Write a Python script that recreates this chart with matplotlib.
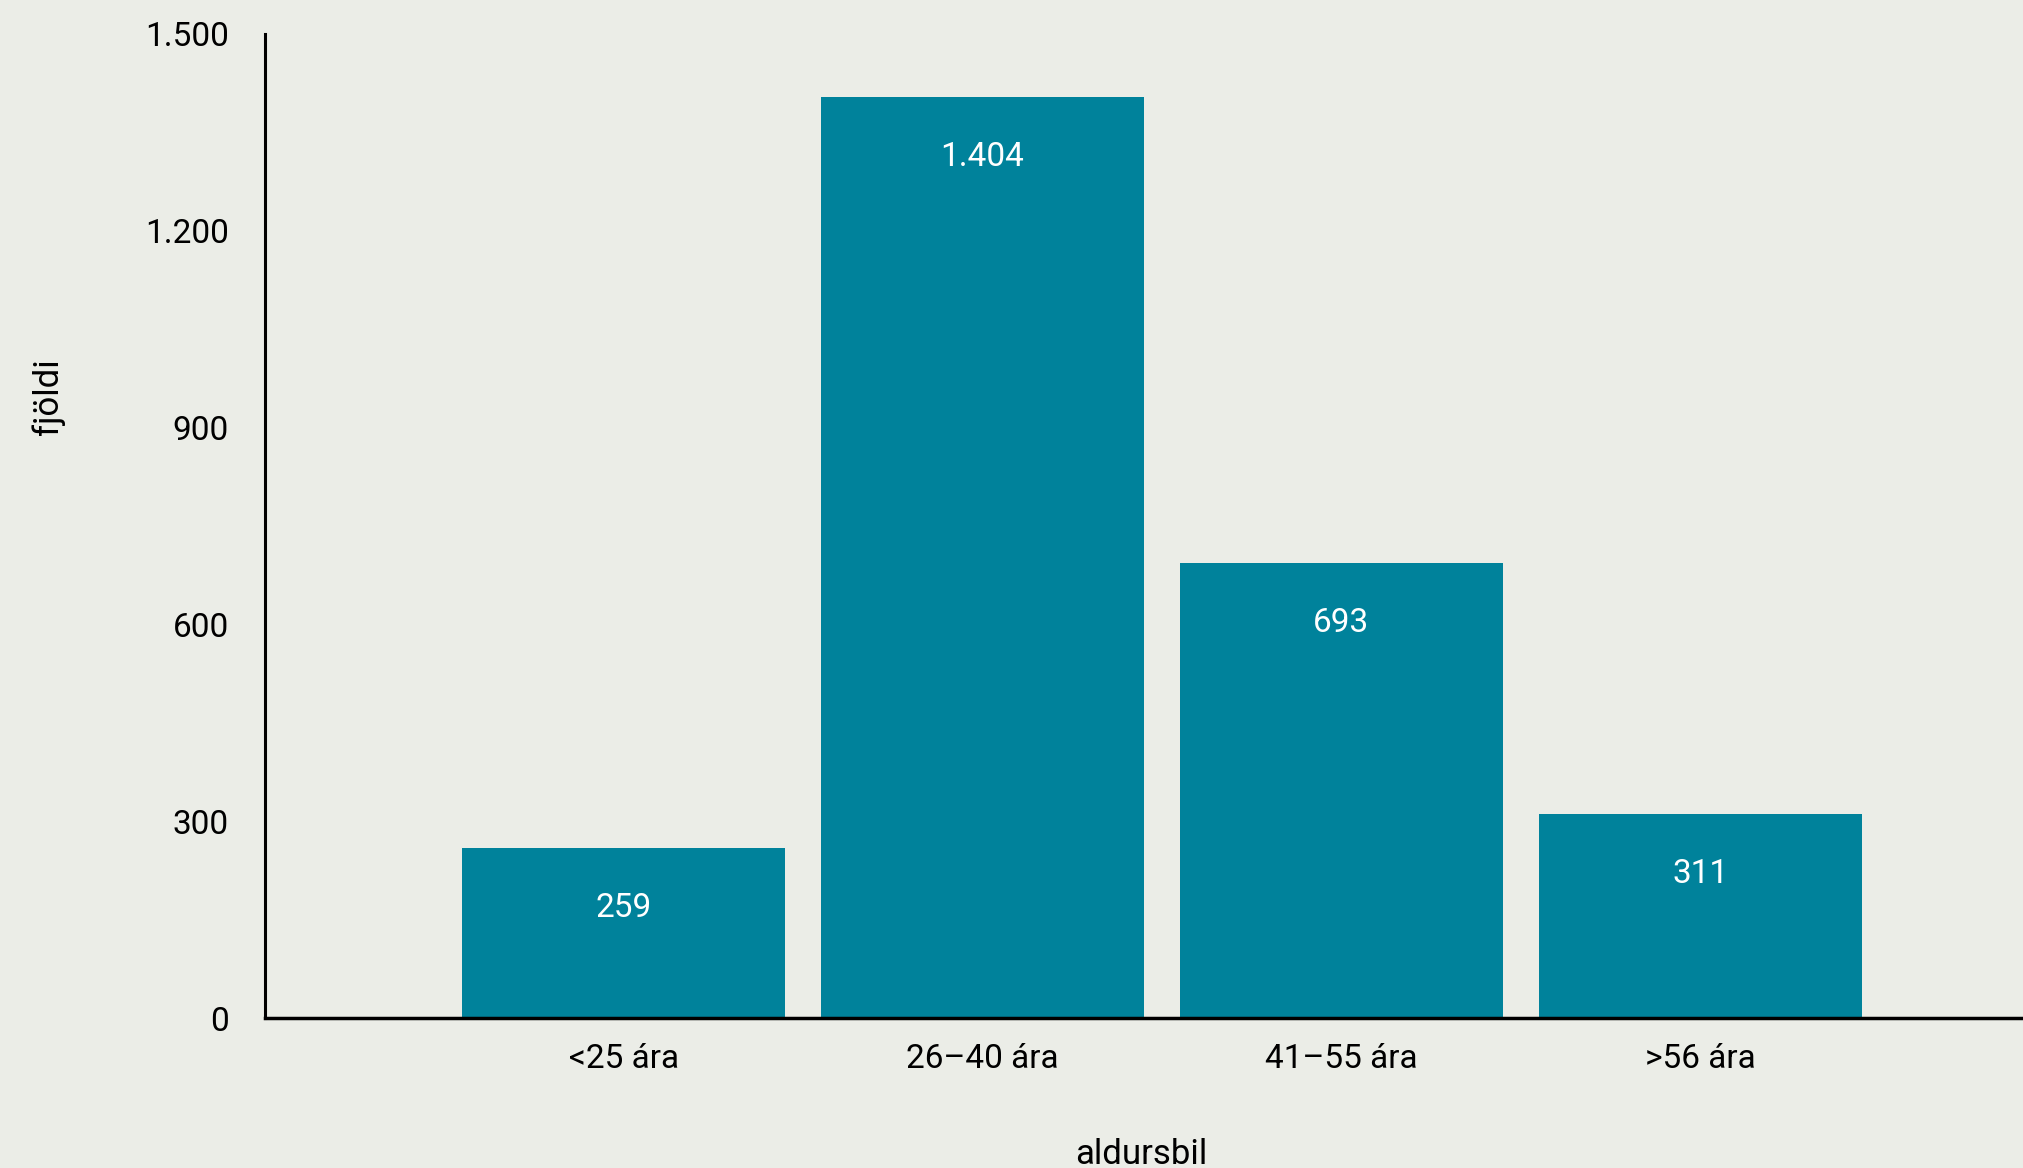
import matplotlib.pyplot as plt
from matplotlib.ticker import FuncFormatter

# data
categories = ['<25 ára', '26–40 ára', '41–55 ára', '>56 ára']
values = [259, 1404, 693, 311]
y_ticks = [0, 300, 600, 900, 1200, 1500]

bg = '#ebede7'
bar_color = '#00829b'

plt.rcParams['font.family'] = ['Roboto', 'DejaVu Sans']

fig = plt.figure(figsize=(20.23, 11.68), dpi=100, facecolor=bg)
ax = fig.add_axes([0.131, 0.1284, 0.869, 0.8425], facecolor=bg)

x = list(range(len(categories)))
bars = ax.bar(x, values, width=0.9, color=bar_color)

for xi, v in zip(x, values):
    lab = f'{v:,}'.replace(',', '.')
    ax.annotate(lab, (xi, v), xytext=(0, -43), textcoords='offset points',
                ha='center', va='center', color='white', fontsize=24)

ax.set_xlim(-1.0, 3.9)
ax.set_ylim(0, 1500)
ax.set_yticks(y_ticks)
ax.yaxis.set_major_formatter(FuncFormatter(lambda v, p: f'{int(v):,}'.replace(',', '.')))
ax.set_xticks(x)
ax.set_xticklabels(categories)
ax.tick_params(axis='y', length=0, pad=26, labelsize=24)
ax.tick_params(axis='x', length=0, pad=18, labelsize=24)
for t in ax.get_yticklabels():
    t.set_fontstretch('condensed')

for s in ['top', 'right']:
    ax.spines[s].set_visible(False)
ax.spines['left'].set_linewidth(2.2)
ax.spines['bottom'].set_linewidth(2.5)

fig.text(0.024, 1 - 397 / 1168, 'fjöldi', rotation=90, ha='center', va='center', fontsize=25)
fig.text(0.564, 0.003, 'aldursbil', ha='center', va='baseline', fontsize=25)

fig.savefig('out.png', dpi=100, facecolor=bg)
